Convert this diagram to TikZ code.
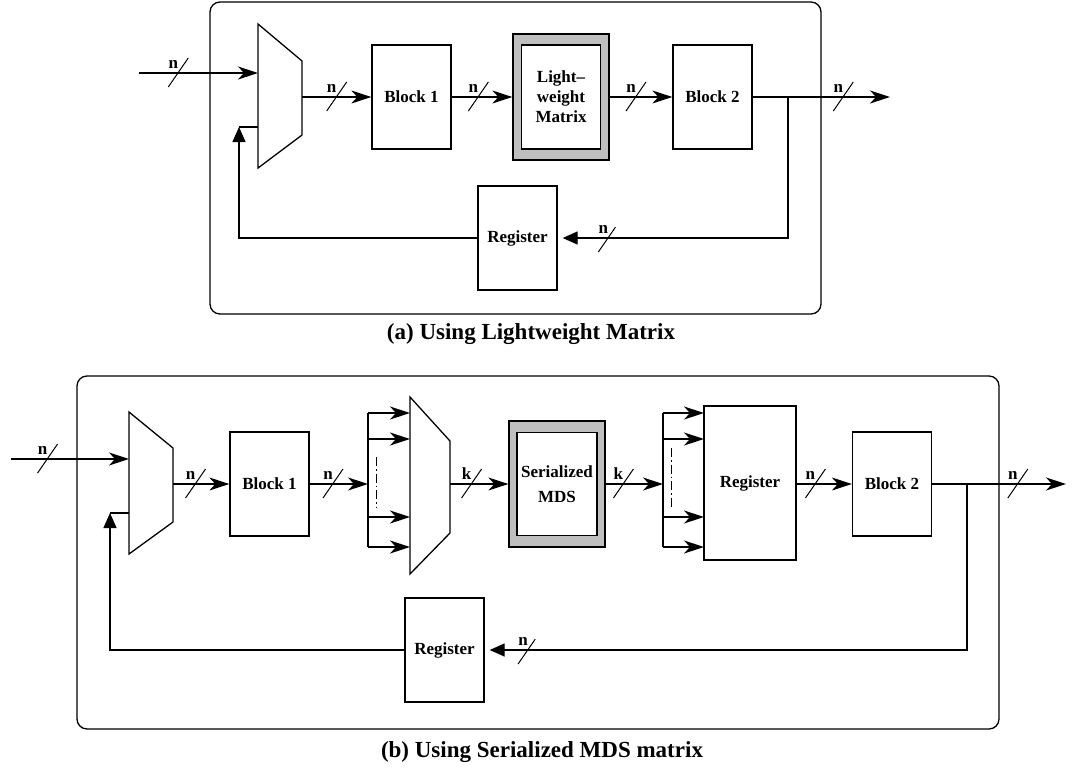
\documentclass[tikz,border=0pt]{standalone}
\usepackage{fontspec}
\setmainfont{Liberation Serif}
\usetikzlibrary{arrows.meta}
\newcommand\blkfont{\fontsize{17}{20}\selectfont\bfseries}
\newcommand\busfont{\fontsize{17}{19}\selectfont\bfseries}
\newcommand\capfont{\fontsize{23}{27}\selectfont\bfseries}
\tikzset{
  blk/.style={draw, minimum width=79pt, minimum height=104pt, inner sep=0pt, align=center, font=\blkfont},
  frame/.style={draw, fill=gray!50, minimum width=96pt, minimum height=126pt, inner sep=0pt},
  fwd/.style={-{Stealth[length=20pt,width=13pt,inset=6pt]}},
  back/.style={-{Triangle[length=15pt,width=13pt]}},
  dashdot/.style={line width=0.8pt, dash pattern=on 9pt off 3pt on 1.5pt off 3pt},
  bus/.pic={\draw[-, line width=1pt] (-10,14) -- (10,-15);
            \node[font=\busfont, anchor=base] at (-5,-5) {#1};},
}
\begin{document}
\begin{tikzpicture}[x=1pt,y=-1pt,line width=1.3pt]
  \useasboundingbox (0,0) rectangle (1078,771);

  % (a) lightweight matrix
  \draw[rounded corners=10pt] (210,2) rectangle (821,314);
  \draw (258,24) -- (302,61) -- (302,135) -- (258,168) -- cycle; % mux
  \coordinate (muxa1) at (258,73);
  \coordinate (muxa2) at (258,127);
  \coordinate (muxao) at (302,97);
  \node[blk] (blka1) at (411.5,97) {Block 1};
  \node[frame] (matf) at (561,97) {};
  \node[blk, fill=white] (mat) at (561,97) {Light--\\weight\\Matrix};
  \node[blk] (blka2) at (712.5,97) {Block 2};
  \node[blk] (rega) at (517.5,238) {Register};
  \coordinate (ina) at (139,73);
  \coordinate (outa) at (890,97);
  \coordinate (forka) at (788,97);
  \coordinate (upa) at (239,127);

  \draw[fwd] (ina) -- (muxa1) pic[pos=0.33]{bus=n};
  \draw[fwd] (muxao) -- (blka1) pic[pos=0.5]{bus=n};
  \draw[fwd] (blka1) -- (matf) pic[pos=0.44]{bus=n};
  \draw[fwd] (matf) -- (blka2) pic[pos=0.42]{bus=n};
  \draw[fwd] (blka2) -- (outa) pic[pos=0.66]{bus=n};
  \draw[back, shorten >=5pt] (forka) |- (rega) pic[pos=0.89]{bus=n};
  \draw[back] (rega) -| (upa);
  \draw (upa) -- (muxa2);

  \node[font=\capfont, anchor=base] (capa) at (531,339) {(a) Using Lightweight Matrix};

  % (b) serialized MDS
  \draw[rounded corners=10pt] (77,376) rectangle (999,729);
  \draw (129,412) -- (173,448) -- (173,522) -- (129,554) -- cycle; % mux 1
  \draw (410,397) -- (450,441) -- (450,533) -- (410,574) -- cycle; % mux 2
  \coordinate (muxb1) at (129,459);
  \coordinate (muxb2) at (129,513);
  \coordinate (muxbo) at (173,484);
  \coordinate (muxco) at (450,484);
  \node[blk] (blkb1) at (269.5,484) {Block 1};
  \node[frame] (mdsf) at (557,484) {};
  \node[blk, fill=white, minimum width=80pt, minimum height=103pt] (mds) at (557,484) {Serialized\\[5pt]MDS};
  \node[blk, minimum width=92pt, minimum height=154pt] (regb1) at (750,483) {Register};
  \node[blk] (blkb2) at (892,484) {Block 2};
  \node[blk] (regb2) at (444.5,650) {Register};
  \coordinate (inb) at (11,459);
  \coordinate (outb) at (1066,484);
  \coordinate (forkb) at (967,484);
  \coordinate (upb) at (110,513);
  \coordinate (fana) at (368,484);
  \coordinate (fanb) at (663,484);

  % bus fan-out
  \draw (368,413) -- (368,547);
  \draw (663,413) -- (663,547);
  \foreach \yy in {413,439,517,547} {
    \draw[fwd] (368,\yy) -- (410,\yy);
    \draw[fwd] (663,\yy) -- (704,\yy);
  }
  \draw[dashdot] (376,457) -- (376,508);
  \draw[dashdot] (671,448) -- (671,508);

  \draw[fwd] (inb) -- (muxb1) pic[pos=0.31]{bus=n};
  \draw[fwd] (muxbo) -- (blkb1) pic[pos=0.4]{bus=n};
  \draw[fwd] (blkb1) -- (fana) pic[pos=0.4]{bus=n};
  \draw[fwd] (muxco) -- (mdsf) pic[pos=0.37]{bus=k};
  \draw[fwd] (mdsf) -- (fanb) pic[pos=0.31]{bus=k};
  \draw[fwd] (regb1.east |- blkb2) -- (blkb2) pic[pos=0.34]{bus=n};
  \draw[fwd] (blkb2) -- (outb) pic[pos=0.64]{bus=n};
  \draw[back, shorten >=5pt] (forkb) |- (regb2) pic[pos=0.955]{bus=n};
  \draw[back] (regb2) -| (upb);
  \draw (upb) -- (muxb2);

  \node[font=\capfont, anchor=base] (capb) at (542,757) {(b) Using Serialized MDS matrix};
\end{tikzpicture}
\end{document}
